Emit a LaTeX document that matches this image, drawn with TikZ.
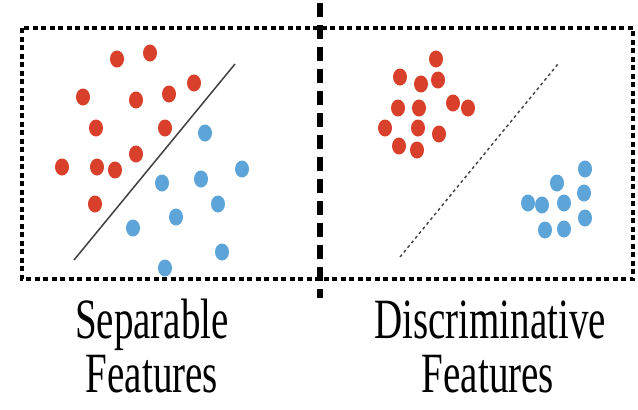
\documentclass[tikz,border=0pt]{standalone}
\usepackage{fontspec}
\setmainfont{Liberation Serif}
\usepackage{graphicx}
\definecolor{dotred}{HTML}{D9402B}
\definecolor{dotblue}{HTML}{5DA5D8}
\newcommand{\tallword}[1]{\scalebox{1}[1.46]{#1}}

\begin{document}
\begin{tikzpicture}[x=1pt, y=-1pt,
  reddot/.style={fill=dotred}, bluedot/.style={fill=dotblue},
  caption/.style={anchor=base, inner sep=0pt, font=\fontsize{39}{39}\selectfont},
  framebox/.style={line width=3.2pt, dash pattern=on 5pt off 3.5pt}]
  \useasboundingbox (0,0) rectangle (638,410);
  % frame and divider
  \draw[framebox] (22,28) rectangle (633,279);
  \coordinate (divtop) at (320,3);
  \coordinate (divbot) at (320,298);
  \draw[line width=5.5pt, dash pattern=on 14pt off 8pt] (divtop) -- (divbot);
  % left: separable
  \foreach \x/\y in {117/59, 150/53, 83/97, 136/100, 169/94, 194/83, 96/128,
    165/128, 136/154, 62/167, 97/167, 115/170, 95/204}
    \fill[reddot] (\x,\y) ellipse [x radius=7pt, y radius=8.5pt];
  \foreach \x/\y in {205/133, 242/169, 162/183, 201/179, 218/204, 176/217,
    133/228, 222/252, 165/268}
    \fill[bluedot] (\x,\y) ellipse [x radius=7pt, y radius=8.5pt];
  \coordinate (sepA) at (74,260);
  \coordinate (sepB) at (235,64);
  \draw[line width=1.5pt, black!75] (sepA) -- (sepB);
  % right: discriminative
  \foreach \x/\y in {436/59, 400/77, 438/80, 421/84, 398/108, 419/108, 453/103,
    468/108, 385/128, 418/128, 439/134, 399/146, 417/150}
    \fill[reddot] (\x,\y) ellipse [x radius=7pt, y radius=8.5pt];
  \foreach \x/\y in {585/169, 557/183, 584/193, 528/203, 542/205, 564/203,
    585/218, 545/230, 564/229}
    \fill[bluedot] (\x,\y) ellipse [x radius=7pt, y radius=8.5pt];
  \coordinate (disA) at (400,257);
  \coordinate (disB) at (558,64);
  \draw[line width=1.4pt, black!75, dash pattern=on 3pt off 3pt] (disA) -- (disB);
  % captions
  \node[caption] (sep1) at (152,338) {\tallword{Separable}};
  \node[caption] (sep2) at (152,392) {\tallword{Features}};
  \node[caption] (dis1) at (490,338) {\tallword{Discriminative}};
  \node[caption] (dis2) at (488,392) {\tallword{Features}};
\end{tikzpicture}
\end{document}
